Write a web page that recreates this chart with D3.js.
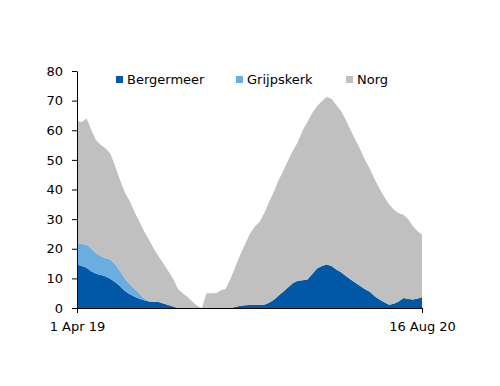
<!DOCTYPE html>
<html>
<head>
    <script src="https://d3js.org/d3.v7.min.js"></script>
    <style>
        body { margin: 0; background: #fff; }
        svg text { font-family: "DejaVu Sans", sans-serif; fill: #000; }
    </style>
</head>
<body>
<script>
// weekly points, 1 Apr 2019 .. 16 Aug 2020
const startDate = new Date(2019, 3, 1);
const endDate = new Date(2020, 7, 16);
const dates = d3.timeDay.range(startDate, d3.timeDay.offset(endDate, 1), 7);
dates.push(endDate);

const keys = ["Bergermeer", "Grijpskerk", "Norg"];
const colors = ["#0058a6", "#6aade0", "#c0c0c0"];

const bergermeer = [14.7, 14.2, 13.6, 12.3, 11.6, 11.1, 10.6, 9.8, 8.7, 7.3,
    5.7, 4.6, 3.8, 3.1, 2.6, 2.2, 2.1, 2.0, 1.5, 1.0,
    0.5, 0, 0, 0, 0, 0, 0, 0, 0, 0,
    0, 0, 0, 0.3, 0.8, 0.9, 1.0, 1.1, 1.1, 1.1,
    1.8, 2.8, 4.2, 5.6, 7.0, 8.4, 9.2, 9.4, 9.6, 11.5,
    13.3, 14.2, 14.7, 14.2, 13.0, 12.1, 10.8, 9.6, 8.5, 7.4,
    6.3, 5.5, 4.0, 2.9, 1.9, 1.1, 1.4, 2.2, 3.4, 3.0,
    2.9, 3.2, 3.6];
const grijpskerk = [7.3, 7.4, 7.8, 7.7, 6.9, 6.4, 6.3, 6.5, 6.1, 5.0,
    4.2, 3.4, 2.6, 1.7, 0.7, 0.1, 0, 0, 0, 0,
    0, 0, 0, 0, 0, 0, 0, 0, 0, 0,
    0, 0, 0, 0, 0, 0, 0, 0, 0, 0,
    0, 0, 0, 0, 0, 0, 0, 0, 0, 0,
    0, 0, 0, 0, 0, 0, 0, 0, 0, 0,
    0, 0, 0, 0, 0, 0, 0, 0, 0, 0,
    0, 0, 0];
const norg = [41.2, 41.2, 42.6, 40.0, 38.0, 37.5, 36.9, 35.7, 32.8, 30.7,
    29.0, 28.0, 25.9, 24.4, 22.5, 20.7, 17.9, 15.4, 13.5, 11.5,
    9.5, 6.5, 5.0, 3.8, 2.2, 0.8, 0, 5.0, 5.0, 5.1,
    6.0, 6.5, 10.0, 13.7, 17.2, 20.6, 24.0, 26.3, 27.9, 30.9,
    34.0, 36.4, 39.0, 40.8, 43.0, 44.8, 46.8, 50.6, 53.2, 54.3,
    54.9, 55.6, 56.5, 56.4, 55.5, 54.4, 52.7, 50.4, 48.3, 46.1,
    43.7, 41.5, 39.5, 37.4, 35.6, 33.9, 31.8, 29.8, 28.1, 27.0,
    24.6, 22.6, 21.2];

const yTicks = [0, 10, 20, 30, 40, 50, 60, 70, 80];
const xTicks = [startDate, endDate];

const data = dates.map((d, i) => ({
    date: d,
    Bergermeer: bergermeer[i],
    Grijpskerk: grijpskerk[i],
    Norg: norg[i]
}));

const svgWidth = 500, svgHeight = 386;
const margins = {top: 71, right: 78, bottom: 78, left: 77};
const chartWidth = svgWidth - margins.left - margins.right;
const chartHeight = svgHeight - margins.top - margins.bottom;

const svg = d3.select("body").append("svg")
    .attr("width", svgWidth)
    .attr("height", svgHeight);

const chartArea = svg.append("g")
    .attr("transform", `translate(${margins.left},${margins.top})`);

const xScale = d3.scaleTime().domain([startDate, endDate]).range([0, chartWidth]);
const yScale = d3.scaleLinear().domain([0, 80]).range([chartHeight, 0]);

const series = d3.stack().keys(keys)(data);

const area = d3.area()
    .x(d => xScale(d.data.date))
    .y0(d => yScale(d[0]))
    .y1(d => yScale(d[1]));

chartArea.selectAll(".layer")
    .data(series)
    .join("path")
    .attr("class", "layer")
    .attr("fill", (d, i) => colors[i])
    .attr("d", area);

// y axis
const yAxis = d3.axisLeft(yScale)
    .tickValues(yTicks)
    .tickSize(5)
    .tickSizeOuter(0)
    .tickPadding(9);
const yG = chartArea.append("g").call(yAxis);
yG.selectAll("text").style("font-size", "13px");
yG.selectAll("line, path").attr("stroke", "#000");

// x axis
const xAxis = d3.axisBottom(xScale)
    .tickValues(xTicks)
    .tickFormat(d3.timeFormat("%-d %b %y"))
    .tickSize(5)
    .tickSizeOuter(0)
    .tickPadding(9);
const xG = chartArea.append("g")
    .attr("transform", `translate(0,${chartHeight})`)
    .call(xAxis);
xG.selectAll("text").style("font-size", "13px");
xG.selectAll("line, path").attr("stroke", "#000");

// legend
const legendX = [116, 236, 346];
const legend = svg.append("g");
keys.forEach((k, i) => {
    legend.append("rect")
        .attr("x", legendX[i])
        .attr("y", 76)
        .attr("width", 7)
        .attr("height", 7)
        .attr("fill", colors[i]);
    legend.append("text")
        .attr("x", legendX[i] + 11)
        .attr("y", 84)
        .style("font-size", "13px")
        .text(k);
});
</script>
</body>
</html>
